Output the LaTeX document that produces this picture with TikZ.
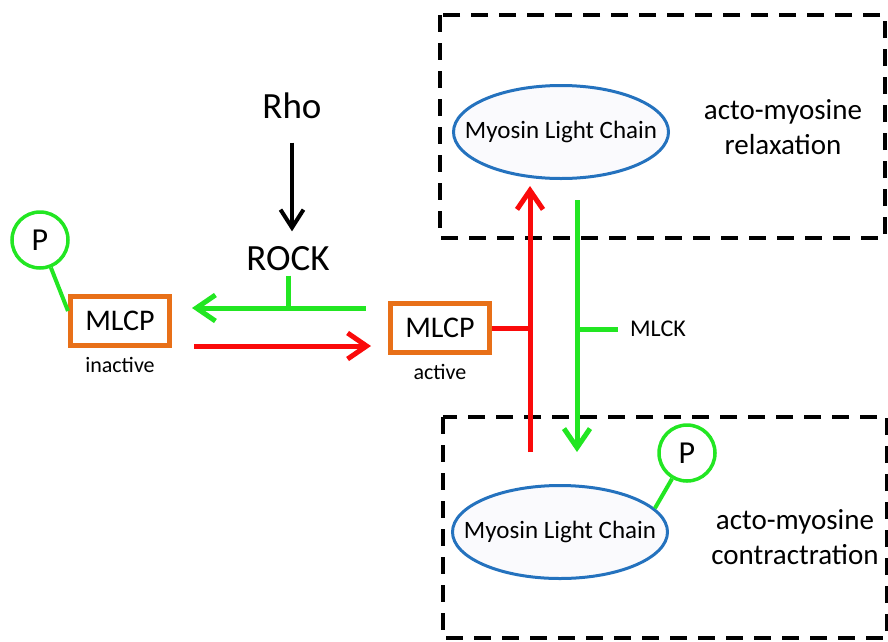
\documentclass[tikz,border=0pt]{standalone}
\usepackage{fontspec}
\setmainfont{Carlito}
\usepackage{xcolor}
\usepackage{tikz}
\usetikzlibrary{shapes.geometric, arrows.meta, positioning}

\definecolor{actgreen}{RGB}{34,230,34}
\definecolor{inhred}{RGB}{250,10,10}
\definecolor{mlcporange}{RGB}{232,112,24}
\definecolor{mlcblue}{RGB}{36,114,190}
\definecolor{mlcfill}{RGB}{250,250,253}

\begin{document}
\begin{tikzpicture}[
  x=1pt, y=-1pt,
  mlcpbox/.style={rectangle, draw=mlcporange, line width=5pt, minimum width=99pt,
              minimum height=49pt, font=\fontsize{30}{36}\selectfont},
  mlcell/.style={ellipse, draw=mlcblue, fill=mlcfill, line width=3pt, inner xsep=-40pt,
              inner ysep=0pt, minimum width=215pt, minimum height=93pt,
              font=\fontsize{25}{30}\selectfont},
  phos/.style={circle, draw=actgreen, fill=white, line width=3.5pt, minimum size=56pt,
              inner sep=0pt, font=\fontsize{32}{36}\selectfont},
  biglbl/.style={font=\fontsize{37}{42}\selectfont},
  statelbl/.style={font=\fontsize{22}{26}\selectfont},
  regionlbl/.style={align=center, font=\fontsize{29}{35}\selectfont},
  enzlbl/.style={font=\fontsize{24}{28}\selectfont},
  region/.style={draw=black, line width=4pt, dash pattern=on 17pt off 11pt},
  garr/.style={-{Straight Barb[length=19pt,width=26pt]}, draw=actgreen, line width=5pt},
  rarr/.style={-{Straight Barb[length=19pt,width=26pt]}, draw=inhred, line width=5pt},
  barr/.style={-{Straight Barb[length=18pt,width=23pt]}, draw=black, line width=4pt},
  gline/.style={draw=actgreen, line width=5pt},
  rline/.style={draw=inhred, line width=5pt},
  pline/.style={draw=actgreen, line width=4pt}
]
\useasboundingbox (0,0) rectangle (888,641);

% dashed regions
\draw[region] (440,15) rectangle (885,238);
\draw[region] (443,417) rectangle (887,638);

\node[biglbl] (Rho)  at (292,106) {Rho};
\node[biglbl] (ROCK) at (288,259) {ROCK};

\node[mlcpbox] (inact) at (120,321) {MLCP};
\node[statelbl, below=6pt of inact] (inactlbl) {inactive};
\node[phos] (P1) at (40,240) {P};

\node[mlcpbox] (act) at (440,328) {MLCP};
\node[statelbl, below=6pt of act] (actlbl) {active};

\node[mlcell] (mlct) at (561,132) {Myosin Light Chain};
\node[regionlbl] (relax) at (783,127) {acto-myosine\\relaxation};

\node[mlcell] (mlcb) at (560,532) {Myosin Light Chain};
\node[regionlbl] (contr) at (795,537) {acto-myosine\\contractration};
\node[phos] (P2) at (687,453) {P};

\node[enzlbl] (MLCK) at (658,329) {MLCK};

\coordinate (gstart) at ([xshift=-22pt,yshift=20pt]act.west);
\coordinate (rstart) at ([xshift=22pt,yshift=-25pt]inact.east);
\coordinate (redbot) at (530,452);
\coordinate (gtop)   at (577,200);
\coordinate (gbot)   at (577,452);

\draw[barr, shorten <=20pt, shorten >=12pt] (Rho.south) -- (Rho.south |- ROCK.north);

\draw[garr] (gstart) -- ([xshift=20pt]inact.east |- gstart);
\draw[gline, shorten <=1pt] (ROCK.south) -- (ROCK.south |- gstart);
\draw[rarr] (rstart) -- ([xshift=-17pt]act.west |- rstart);

\draw[rarr, shorten >=6pt] (redbot) -- (redbot |- mlct.south);
\draw[rline] (act.east) -- (act.east -| redbot);
\draw[garr] (gtop) -- (gbot);
\draw[gline, shorten >=9pt] (gtop |- MLCK) -- (MLCK.west);

\draw[pline] (P1) -- ([yshift=10pt]inact.west);
\draw[pline] (P2) -- (mlcb.14);

\end{tikzpicture}
\end{document}
